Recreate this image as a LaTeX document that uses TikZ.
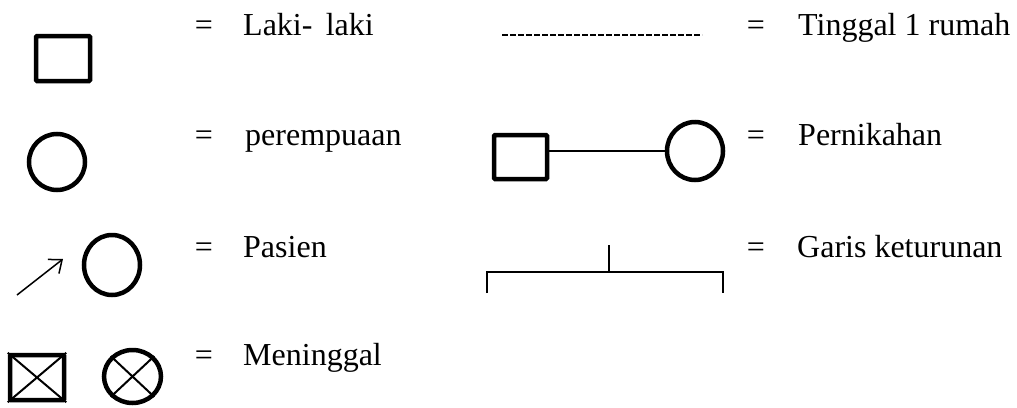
\documentclass[tikz,border=0pt]{standalone}
\usepackage{fontspec}
\setmainfont{Liberation Serif}
\usetikzlibrary{shapes.geometric,arrows.meta}
\begin{document}
\begin{tikzpicture}[x=1pt,y=-1pt,
  sym/.style={draw,line width=4.5pt,inner sep=0pt},
  sqbox/.style={sym,rectangle,rounded corners=1pt},
  circ/.style={sym,ellipse},
  lbl/.style={anchor=base west,inner sep=0pt,font=\fontsize{32}{38}\selectfont},
  eq/.style={anchor=base,inner sep=0pt,font=\fontsize{32}{38}\selectfont},
  thinline/.style={line width=2pt}]
\useasboundingbox (0,0) rectangle (1017,407);
% left column symbols
\node[sqbox,minimum width=54pt,minimum height=45pt] (male) at (63,58.5) {};
\node[circ,minimum width=56pt,minimum height=56pt] (female) at (57,162) {};
\node[circ,minimum width=56pt,minimum height=60pt] (patient) at (112,265) {};
\coordinate (arrS) at (17,295);
\coordinate (arrE) at (63,259);
\draw[line width=1.5pt,-{Straight Barb[length=11pt,width=18pt]}] (arrS) -- (arrE);
\node[sqbox,minimum width=54pt,minimum height=45pt] (dsq) at (37,377.5) {};
\draw[thinline] (dsq.north west) -- (dsq.south east) (dsq.north east) -- (dsq.south west);
\node[circ,minimum width=57pt,minimum height=53pt] (dci) at (132.5,376.5) {};
\draw[thinline] (dci.north west) -- (dci.south east) (dci.north east) -- (dci.south west);
% left labels
\node[eq] (e1) at (204,35) {=};
\node[lbl] (t1) at (243,35) {Laki-\, laki};
\node[eq] (e2) at (204,145) {=};
\node[lbl] (t2) at (245,145) {perempuaan};
\node[eq] (e3) at (204,257) {=};
\node[lbl] (t3) at (243,257) {Pasien};
\node[eq] (e4) at (204,365) {=};
\node[lbl] (t4) at (243,365) {Meninggal};
% right column symbols
\coordinate (dA) at (502,35);
\coordinate (dB) at (702,35);
\draw[line width=2pt,dash pattern=on 6pt off 2pt] (dA) -- (dB);
\node[sqbox,minimum width=53pt,minimum height=44pt] (msq) at (520.5,157) {};
\node[circ,minimum width=56pt,minimum height=58pt] (mci) at (695,151) {};
\draw[line width=1.2pt] (msq.east |- mci.west) -- (mci.west);
\coordinate (vT) at (609,245);
\coordinate (vM) at (609,272);
\coordinate (hL) at (487,272);
\coordinate (hR) at (723,272);
\coordinate (lB) at (487,293);
\coordinate (rB) at (723,293);
\draw[thinline] (vT) -- (vM);
\draw[thinline] (lB) -- (hL) -- (hR) -- (rB);
% right labels
\node[eq] (e5) at (756,35) {=};
\node[lbl] (t5) at (798,35) {Tinggal 1 rumah};
\node[eq] (e6) at (756,145) {=};
\node[lbl] (t6) at (798,145) {Pernikahan};
\node[eq] (e7) at (756,257) {=};
\node[lbl] (t7) at (797,257) {Garis keturunan};
\end{tikzpicture}
\end{document}
